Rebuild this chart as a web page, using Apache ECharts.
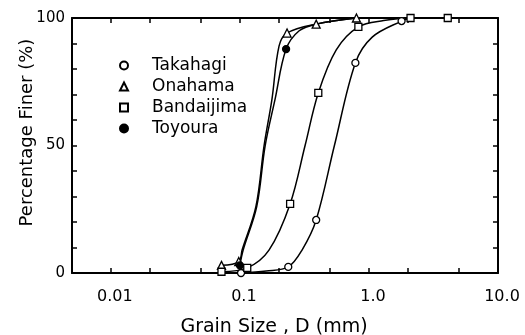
<!DOCTYPE html>
<html>
<head>
<meta charset="utf-8">
<script src="https://cdn.jsdelivr.net/npm/echarts@6/dist/echarts.min.js"></script>
<style>
html,body{margin:0;padding:0;background:#fff;}
#chart{width:525px;height:335px;}
</style>
</head>
<body>
<div id="chart"></div>
<script>
// grain size distribution, D in mm, percentage finer in %
const takahagiD = [0.102, 0.237, 0.39, 0.785, 1.79];
const takahagiP = [0, 2.4, 20.8, 82.4, 98.8];
const takahagiCurveD = [0.102, 0.16, 0.237, 0.303, 0.39, 0.54, 0.785, 1.06, 1.79, 2.1];
const takahagiCurveP = [0, 0.8, 2.4, 9, 20.8, 50, 82.4, 92.5, 98.8, 100];

const onahamaD = [0.072, 0.098, 0.232, 0.39, 0.8];
const onahamaP = [3, 4.5, 94.1, 97.6, 100];
const onahamaCurveD = [0.072, 0.098, 0.104, 0.133, 0.154, 0.177, 0.201, 0.232, 0.39, 0.8];
const onahamaCurveP = [3, 4.5, 9, 26, 50, 68, 89, 94.1, 97.6, 100];

const bandaijimaD = [0.072, 0.114, 0.245, 0.405, 0.828, 2.1, 4.08];
const bandaijimaP = [0.5, 2, 27.1, 70.6, 96.5, 100, 100];
const bandaijimaCurveD = [0.072, 0.114, 0.168, 0.245, 0.32, 0.405, 0.558, 0.828, 1.3, 2.1, 4.08];
const bandaijimaCurveP = [0.5, 2, 9, 27.1, 50, 70.6, 87.5, 96.5, 99, 100, 100];

const toyouraD = [0.1, 0.228];
const toyouraP = [3, 87.8];
const toyouraCurveD = [0.1, 0.106, 0.135, 0.157, 0.187, 0.228, 0.288, 0.39, 0.8];
const toyouraCurveP = [3, 9, 26, 50, 68, 87.8, 95, 97.6, 100];

const xTickValues = [0.01, 0.02, 0.05, 0.1, 0.2, 0.5, 1, 2, 5, 10];
const xLabelValues = [0.01, 0.1, 1, 10];
const xLabels = ['0.01', '0.1', '1.0', '10.0'];
const yLabels = [0, 50, 100];

const FONT = 'DejaVu Sans';

function pairs(xs, ys){
    let out = [];
    for(let i=0;i<xs.length;i++){
        out.push([xs[i], ys[i]]);
    }
    return out;
}

function curve(name, xs, ys){
    return {
        name: name,
        type: 'line',
        smooth: 0.35,
        symbol: 'none',
        lineStyle: {color: '#000', width: 1.5},
        data: pairs(xs, ys),
        z: 2
    };
}

function marks(name, xs, ys, symbol, size, fill){
    return {
        name: name,
        type: 'scatter',
        symbol: symbol,
        symbolSize: size,
        itemStyle: {color: fill, borderColor: '#000', borderWidth: 1.3, opacity: 1},
        data: pairs(xs, ys),
        z: 3
    };
}

const xAxisBase = {
    type: 'log',
    logBase: 10,
    min: 0.005,
    max: 10,
    splitLine: {show: false},
    axisLine: {onZero: false, lineStyle: {color: '#000', width: 2}},
    axisTick: {inside: true, length: 5, customValues: xTickValues, lineStyle: {color: '#000', width: 1.5}}
};
const yAxisBase = {
    type: 'value',
    min: 0,
    max: 100,
    interval: 10,
    splitLine: {show: false},
    axisLine: {onZero: false, lineStyle: {color: '#000', width: 2}},
    axisTick: {inside: true, length: 5, lineStyle: {color: '#000', width: 1.5}}
};

const chart = echarts.init(document.getElementById('chart'), null, {renderer: 'canvas'});
chart.setOption({
    backgroundColor: '#fff',
    animation: false,
    textStyle: {fontFamily: FONT},
    grid: {left: 72, right: 27, top: 18, bottom: 62, containLabel: false, outerBoundsMode: 'none'},
    legend: {
        orient: 'vertical',
        left: 114,
        top: 52,
        itemWidth: 8,
        itemHeight: 8,
        itemGap: 4,
        textStyle: {fontFamily: FONT, fontSize: 17, lineHeight: 17, color: '#000', padding: [0, 0, 0, 19]},
        data: ['Takahagi', 'Onahama', 'Bandaijima', 'Toyoura']
    },
    xAxis: [
        Object.assign({}, xAxisBase, {
            position: 'bottom',
            name: 'Grain Size , D (mm)',
            nameLocation: 'middle',
            nameGap: 45,
            nameMoveOverlap: false,
            nameTextStyle: {fontFamily: FONT, fontSize: 19, color: '#000', padding: [0, 22, 0, 0]},
            axisLabel: {
                customValues: xLabelValues,
                margin: 16,
                fontFamily: FONT,
                fontSize: 16,
                color: '#000',
                padding: [0, 0, 0, 8],
                formatter: function(v){
                    let i = Math.round(Math.log10(v)) + 2;
                    return xLabels[i] || '';
                }
            }
        }),
        Object.assign({}, xAxisBase, {position: 'top', axisLabel: {show: false}})
    ],
    yAxis: [
        Object.assign({}, yAxisBase, {
            position: 'left',
            name: 'Percentage Finer (%)',
            nameLocation: 'middle',
            nameGap: 36,
            nameMoveOverlap: false,
            nameTextStyle: {fontFamily: FONT, fontSize: 18, color: '#000', padding: [0, 0, 0, 26]},
            axisLabel: {
                margin: 7,
                fontFamily: FONT,
                fontSize: 15,
                color: '#000',
                formatter: function(v){
                    return yLabels.indexOf(v) >= 0 ? String(v) : '';
                }
            }
        }),
        Object.assign({}, yAxisBase, {position: 'right', axisLabel: {show: false}})
    ],
    series: [
        curve('Takahagi line', takahagiCurveD, takahagiCurveP),
        curve('Onahama line', onahamaCurveD, onahamaCurveP),
        curve('Bandaijima line', bandaijimaCurveD, bandaijimaCurveP),
        curve('Toyoura line', toyouraCurveD, toyouraCurveP),
        marks('Takahagi', takahagiD, takahagiP, 'circle', 7, '#fff'),
        marks('Onahama', onahamaD, onahamaP, 'triangle', 8, '#fff'),
        marks('Bandaijima', bandaijimaD, bandaijimaP, 'rect', 7, '#fff'),
        marks('Toyoura', toyouraD, toyouraP, 'circle', 7, '#000')
    ]
});
</script>
</body>
</html>
